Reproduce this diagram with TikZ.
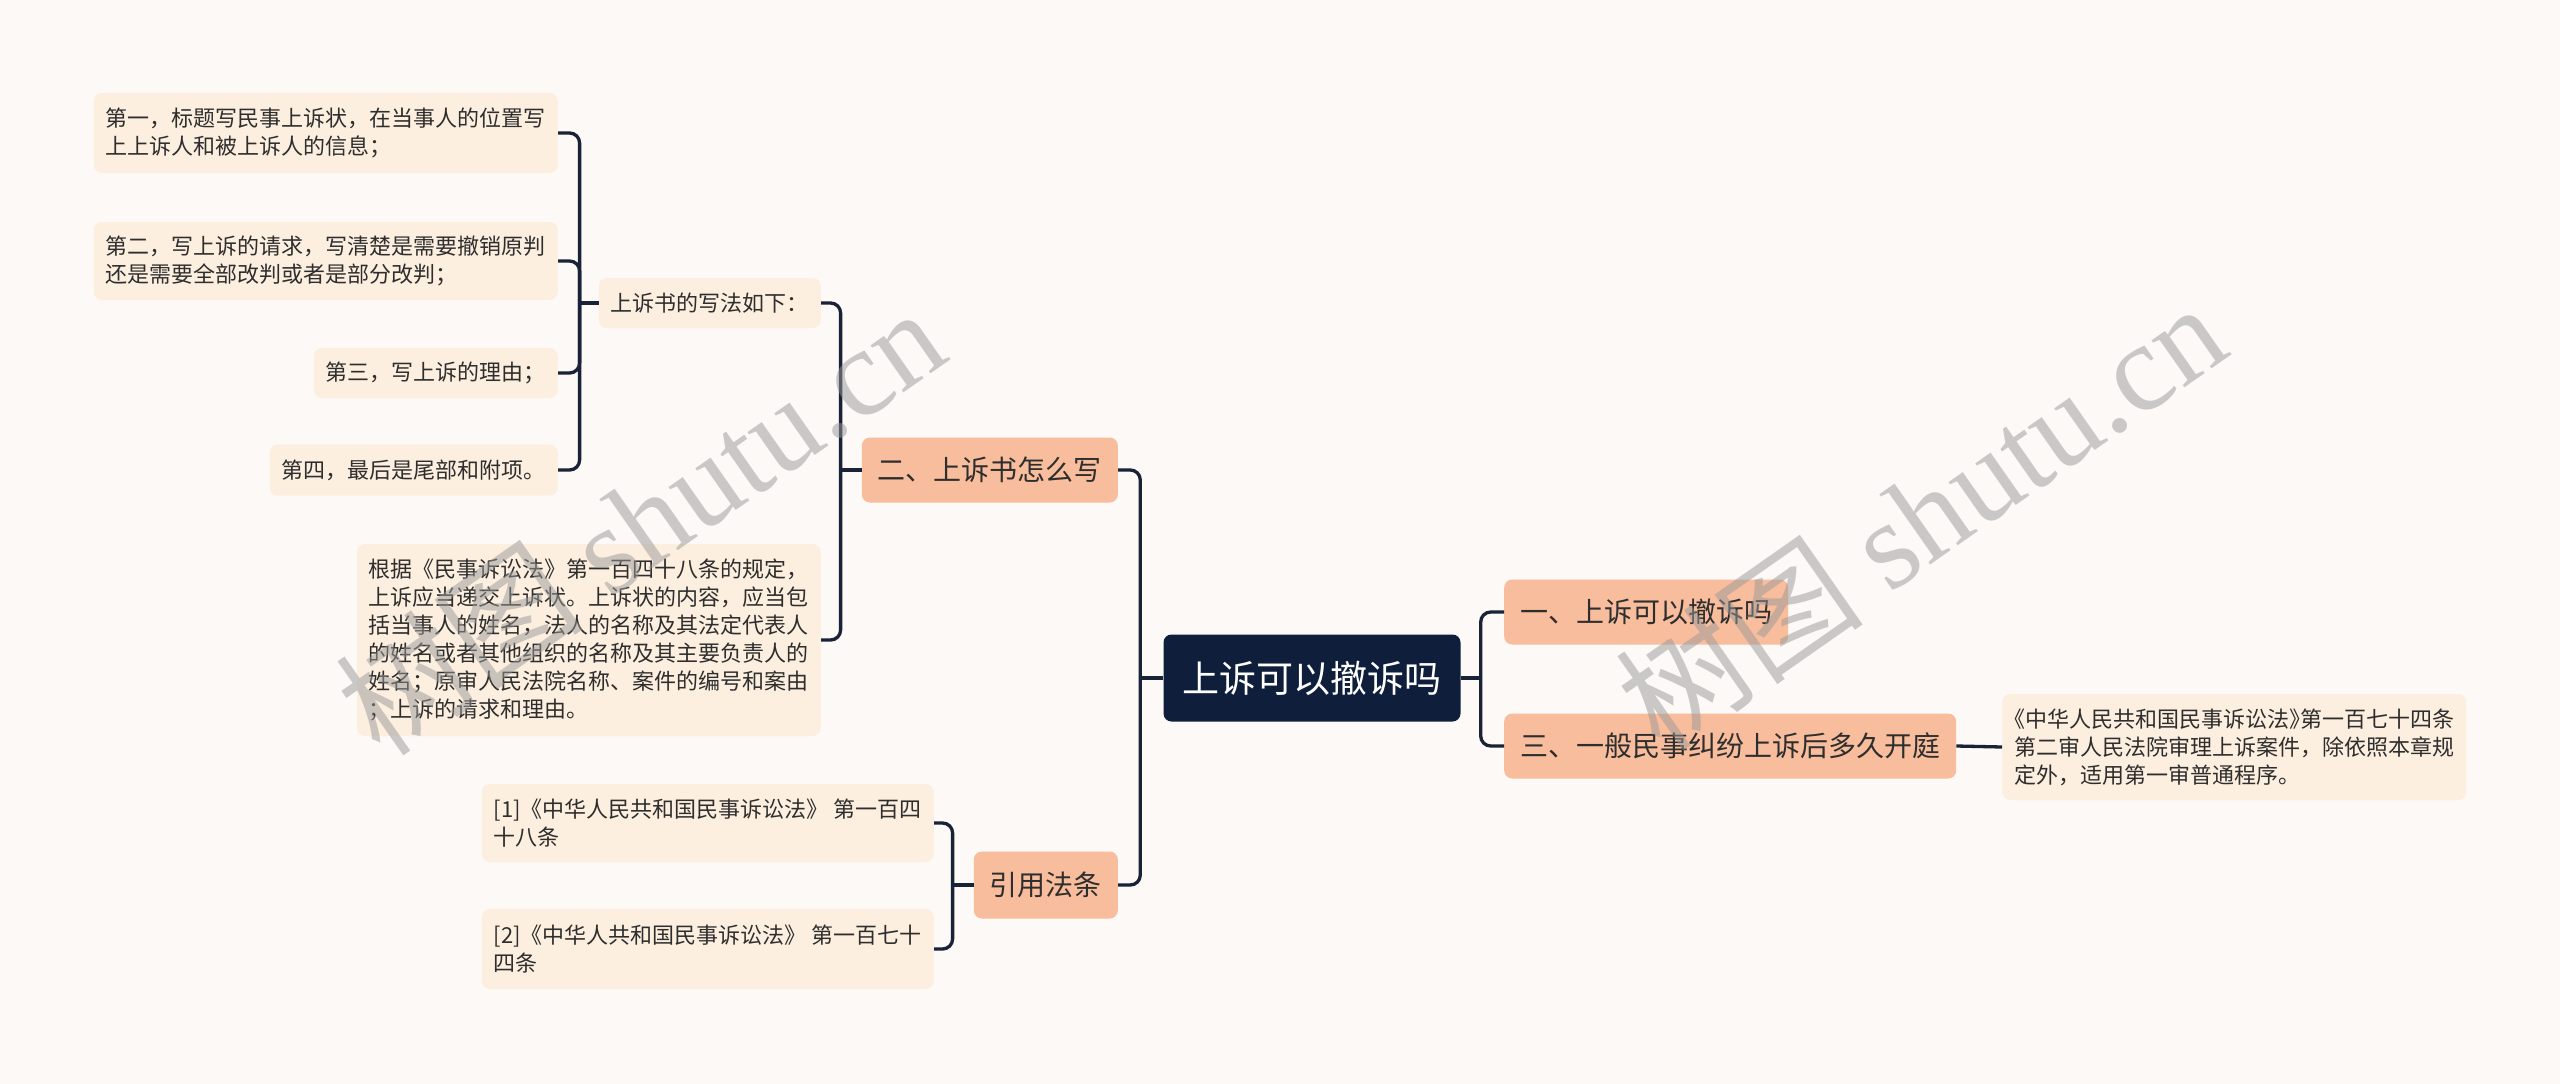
\documentclass[tikz,border=0pt]{standalone}
\usepackage{fontspec}
\setmainfont{Noto Sans CJK SC}
\newfontfamily\wmserif{Liberation Serif}
\newcommand{\halfpunct}[1]{{\addfontfeature{RawFeature=+halt}#1}}
\definecolor{pagebg}{HTML}{FCF9F7}
\definecolor{rootnavy}{HTML}{0F1E3A}
\definecolor{linknavy}{HTML}{1A2238}
\definecolor{branchpeach}{HTML}{F8BD9C}
\definecolor{leafcream}{HTML}{FDEFDF}
\definecolor{inkgray}{HTML}{2E2E2E}
\usetikzlibrary{positioning, calc}

\begin{document}
\begin{tikzpicture}[x=1pt, y=-1pt,
    rootbox/.style={fill=rootnavy, text=white, rounded corners=8pt, font=\fontsize{37}{44}\selectfont, inner xsep=19pt, inner ysep=4pt, minimum height=87pt},
    branch/.style={fill=branchpeach, text=inkgray, rounded corners=8pt, font=\fontsize{28}{34}\selectfont, inner xsep=16pt, inner ysep=4pt, minimum height=65pt},
    leaf/.style={fill=leafcream, text=inkgray, rounded corners=8pt, font=\fontsize{22}{28}\selectfont, align=left, inner xsep=12pt, inner ysep=4pt},
    link/.style={draw=linknavy, line width=3.3pt, rounded corners=10pt},
    watermark/.style={text=black!40, opacity=0.5, rotate=35, font=\fontsize{125}{125}\selectfont}]
    \useasboundingbox[fill=pagebg] (0,0) rectangle (2560,1084);

    % centre and first level
    \node[rootbox] (root) at (1312, 678) {上诉可以撤诉吗};
    \node[branch, anchor=west] (b1) at (1504, 612) {一、上诉可以撤诉吗};
    \node[branch, anchor=west] (b3) at (1504, 746) {三、一般民事纠纷上诉后多久开庭};
    \node[branch, anchor=east] (b2) at (1118, 470) {二、上诉书怎么写};
    \node[branch, anchor=east, minimum height=67pt] (b4) at (1118, 885) {引用法条};

    % right leaf
    \node[leaf, anchor=west, minimum height=106pt] (rleaf) at (2002, 747) {\halfpunct{《中华人民共和国民事诉讼法》第一百七十四条}\\第二审人民法院审理上诉案件，除依照本章规\\定外，适用第一审普通程序。};

    % leaves of section two
    \node[leaf, anchor=east, minimum height=50pt] (howto) at (821, 303) {上诉书的写法如下：};
    \node[leaf, anchor=east, minimum height=192pt] (basis) at (821, 640) {根据《民事诉讼法》第一百四十八条的规定，\\上诉应当递交上诉状。上诉状的内容，应当包\\括当事人的姓名，法人的名称及其法定代表人\\的姓名或者其他组织的名称及其主要负责人的\\姓名；原审人民法院名称、案件的编号和案由\\；上诉的请求和理由。};
    \node[leaf, anchor=east, minimum height=80pt] (step1) at (558, 133) {第一，标题写民事上诉状，在当事人的位置写\\上上诉人和被上诉人的信息；};
    \node[leaf, anchor=east, minimum height=78pt] (step2) at (558, 261) {第二，写上诉的请求，写清楚是需要撤销原判\\还是需要全部改判或者是部分改判；};
    \node[leaf, anchor=east, minimum height=50pt] (step3) at (558, 373) {第三，写上诉的理由；};
    \node[leaf, anchor=east, minimum height=51pt] (step4) at (558, 470) {第四，最后是尾部和附项。};

    % cited articles
    \node[leaf, anchor=east, minimum height=78pt] (ref1) at (934, 823) {[1]《中华人民共和国民事诉讼法》 第一百四\\十八条};
    \node[leaf, anchor=east, minimum height=80pt] (ref2) at (934, 949) {[2]《中华人共和国民事诉讼法》 第一百七十\\四条};

    % connectors
    \draw[link] (root.east) -- ++(20,0) coordinate (jr);
    \draw[link] (jr) |- (b1.west);
    \draw[link] (jr) |- (b3.west);
    \draw[link] (b3.east) -- (rleaf.west);
    \draw[link] (root.west) -- ++(-23,0) coordinate (jl);
    \draw[link] (jl) |- (b2.east);
    \draw[link] (jl) |- (b4.east);
    \draw[link] (b2.west) -- ++(-21,0) coordinate (j2);
    \draw[link] (j2) |- (howto.east);
    \draw[link] (j2) |- (basis.east);
    \draw[link] (howto.west) -- ++(-19,0) coordinate (jh);
    \foreach \s in {step1, step2, step3, step4}
        \draw[link] (jh) |- (\s.east);
    \draw[link] (b4.west) -- ++(-21,0) coordinate (j4);
    \draw[link] (j4) |- (ref1.east);
    \draw[link] (j4) |- (ref2.east);

    % watermarks
    \node[watermark] (wm1) at (640, 520) {树图 {\wmserif shutu.cn}};
    \node[watermark] (wm2) at (1920, 515) {树图 {\wmserif shutu.cn}};
\end{tikzpicture}
\end{document}
